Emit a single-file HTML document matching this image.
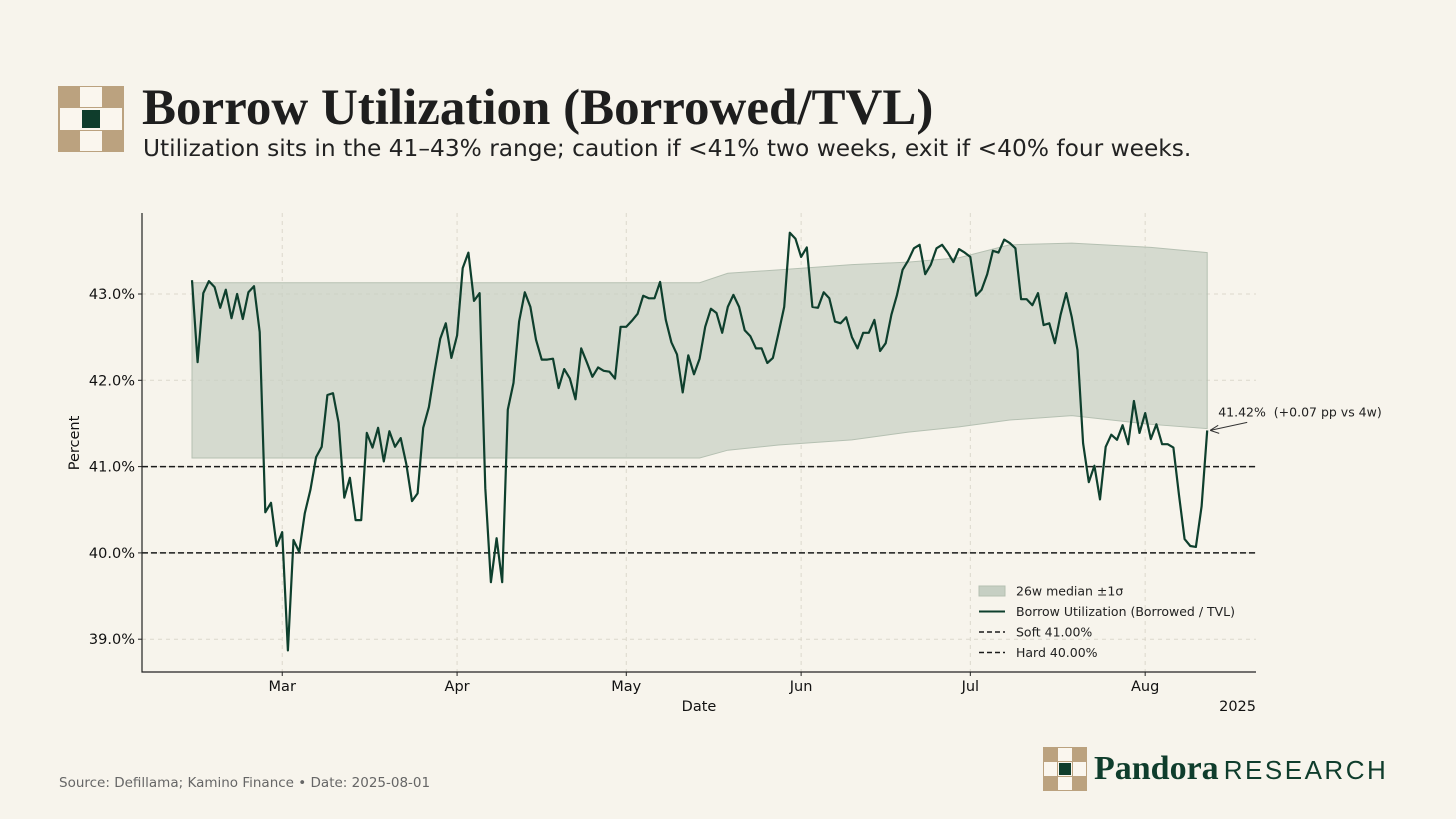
<!DOCTYPE html>
<html><head><meta charset="utf-8">
<style>
html,body{margin:0;padding:0;background:#f7f4ec;}
body{width:1456px;height:819px;position:relative;overflow:hidden;font-family:"DejaVu Sans","Liberation Sans",sans-serif;}
.abs{position:absolute;}
#title{left:142px;top:79px;font-family:"Liberation Serif","DejaVu Serif",serif;font-weight:bold;font-size:51px;color:#1e1e1e;white-space:nowrap;}
#subtitle{left:143px;top:135px;font-size:23.3px;color:#222;white-space:nowrap;font-family:"DejaVu Sans",sans-serif;}
#source{left:59px;top:775px;font-size:13.5px;color:#666;font-family:"DejaVu Sans",sans-serif;}
</style></head><body>
<svg class="abs" style="left:58px;top:86px" width="66" height="66">
<rect width="66" height="66" fill="#bba27f"/>
<rect x="22" y="1" width="22" height="20" fill="#faf6ee"/>
<rect x="2" y="22" width="20" height="22" fill="#faf6ee"/>
<rect x="44" y="22" width="20" height="22" fill="#faf6ee"/>
<rect x="22" y="45" width="22" height="20" fill="#faf6ee"/>
<rect x="22" y="22" width="22" height="22" fill="#faf6ee"/>
<rect x="24" y="24" width="18" height="18" fill="#0f3d2c"/>
</svg>
<div id="title" class="abs">Borrow Utilization (Borrowed/TVL)</div>
<div id="subtitle" class="abs">Utilization sits in the 41–43% range; caution if &lt;41% two weeks, exit if &lt;40% four weeks.</div>
<div id="source" class="abs">Source: Defillama; Kamino Finance • Date: 2025-08-01</div>
<svg class="abs" style="left:1043px;top:747px" width="44" height="44">
<rect width="44" height="44" fill="#bba27f"/>
<rect x="15" y="1" width="14" height="13" fill="#faf6ee"/>
<rect x="1" y="15" width="13" height="14" fill="#faf6ee"/>
<rect x="30" y="15" width="13" height="14" fill="#faf6ee"/>
<rect x="15" y="30" width="14" height="13" fill="#faf6ee"/>
<rect x="15" y="15" width="14" height="14" fill="#faf6ee"/>
<rect x="16" y="16" width="12" height="12" fill="#0f3d2c"/>
</svg>
<div class="abs" style="left:1094px;top:750px;white-space:nowrap;color:#0f3d2c"><span style="font-family:'Liberation Serif',serif;font-weight:bold;font-size:34px">Pandora</span> <span style="font-family:'Liberation Sans',sans-serif;font-size:26px;letter-spacing:2.5px">RESEARCH</span></div>

<svg id="chart" class="abs" style="left:0;top:0" width="1456" height="819"></svg>
<script>
const startDate = "2025-02-13";
const utilization = [43.16,42.21,43.01,43.15,43.08,42.84,43.05,42.72,43.00,42.71,43.02,43.09,42.56,40.47,40.58,40.08,40.24,38.87,40.15,40.01,40.46,40.73,41.11,41.23,41.83,41.85,41.51,40.64,40.87,40.38,40.38,41.39,41.22,41.45,41.06,41.41,41.23,41.33,41.03,40.60,40.69,41.45,41.69,42.10,42.48,42.66,42.26,42.52,43.30,43.48,42.92,43.01,40.75,39.66,40.17,39.66,41.66,41.97,42.68,43.02,42.85,42.47,42.24,42.24,42.25,41.91,42.13,42.02,41.78,42.37,42.21,42.04,42.15,42.11,42.10,42.02,42.62,42.62,42.69,42.77,42.98,42.95,42.95,43.14,42.70,42.44,42.30,41.86,42.29,42.07,42.25,42.62,42.83,42.78,42.55,42.85,42.99,42.85,42.58,42.51,42.37,42.37,42.20,42.26,42.55,42.85,43.71,43.64,43.43,43.54,42.85,42.84,43.02,42.95,42.68,42.66,42.73,42.50,42.37,42.55,42.55,42.70,42.34,42.43,42.76,42.99,43.28,43.39,43.53,43.57,43.23,43.34,43.53,43.57,43.48,43.37,43.52,43.48,43.43,42.98,43.05,43.23,43.50,43.48,43.63,43.59,43.53,42.94,42.94,42.87,43.01,42.64,42.66,42.43,42.76,43.01,42.73,42.35,41.27,40.82,41.01,40.62,41.23,41.37,41.31,41.48,41.26,41.76,41.39,41.62,41.32,41.49,41.26,41.26,41.22,40.67,40.16,40.08,40.07,40.54,41.42];
const bandDays = [0,90,95,104,117,127,136,145,156,170,180];
const bandUpper = [43.13,43.13,43.24,43.28,43.34,43.37,43.42,43.57,43.59,43.54,43.48];
const bandLower = [41.10,41.10,41.19,41.25,41.31,41.40,41.46,41.54,41.59,41.49,41.44];
const yTicks = [39,40,41,42,43];
const xTickLabels = ["Mar","Apr","May","Jun","Jul","Aug"];
const xTickDates = ["2025-03-01","2025-04-01","2025-05-01","2025-06-01","2025-07-01","2025-08-01"];
const softLevel = 41.0, hardLevel = 40.0;

const NS="http://www.w3.org/2000/svg";
const svg=document.getElementById('chart');
const L=142,R=1256,T=213,B=672;
const dayMs=86400000, t0=Date.parse(startDate);
const X0=192, PXD=5.64;
function xDate(s){return X0+(Date.parse(s)-t0)/dayMs*PXD;}
function xDay(d){return X0+d*PXD;}
function y(v){return 294+(43-v)*86.3;}
function mk(tag,attrs,parent){const e=document.createElementNS(NS,tag);for(const k in attrs)e.setAttribute(k,attrs[k]);(parent||svg).appendChild(e);return e;}

yTicks.forEach(v=>{
  const g=mk('line',{x1:L,x2:R,y1:y(v),y2:y(v),stroke:'#dcd8cc','stroke-dasharray':'4 4','stroke-width':1});
  
  
});
xTickDates.forEach(d=>{
  const g=mk('line',{x1:xDate(d),x2:xDate(d),y1:T,y2:B,stroke:'#dcd8cc','stroke-dasharray':'4 4','stroke-width':1});
  
  
});
let bp='';
bandDays.forEach((d,i)=>{bp+=(i?'L':'M')+xDay(d)+','+y(bandUpper[i]);});
for(let i=bandDays.length-1;i>=0;i--)bp+='L'+xDay(bandDays[i])+','+y(bandLower[i]);
const band=mk('path',{d:bp+'Z',fill:'#c6cfc3','fill-opacity':0.7,stroke:'#b5c0b2','stroke-width':1});


[softLevel,hardLevel].forEach((v,i)=>{
  const l=mk('line',{x1:L,x2:R,y1:y(v),y2:y(v),stroke:'#1a1a1a','stroke-width':1.5,'stroke-dasharray':'6 3'});
  
  
});
let lp='';
utilization.forEach((v,i)=>{lp+=(i?'L':'M')+xDay(i).toFixed(1)+','+y(v).toFixed(1);});
const line=mk('path',{d:lp,fill:'none',stroke:'#0e3f2d','stroke-width':2.2,'stroke-linejoin':'round'});


const ax=mk('path',{d:`M${L},${T}V${B}H${R}`,fill:'none',stroke:'#222','stroke-width':1.2});


yTicks.forEach(v=>{
  mk('line',{x1:L-4,x2:L,y1:y(v),y2:y(v),stroke:'#222'});
  const t=mk('text',{x:L-7,y:y(v)+5,'text-anchor':'end','font-size':14.5,fill:'#111'});
  t.textContent=v.toFixed(1)+'%';
  
  
});
xTickDates.forEach((d,i)=>{
  mk('line',{x1:xDate(d),x2:xDate(d),y1:B,y2:B+4,stroke:'#222'});
  const t=mk('text',{x:xDate(d),y:B+19,'text-anchor':'middle','font-size':14.5,fill:'#111'});
  t.textContent=xTickLabels[i];
  
  
});
const yr=mk('text',{x:R,y:B+39,'text-anchor':'end','font-size':14.5,fill:'#111'});yr.textContent='2025';


const xt=mk('text',{x:699,y:B+39,'text-anchor':'middle','font-size':14.5,fill:'#111'});xt.textContent='Date';


const yt=mk('text',{x:79,y:443,'text-anchor':'middle','font-size':14.5,fill:'#111',transform:'rotate(-90 79 443)'});yt.textContent='Percent';


const lastI=utilization.length-1, lv=utilization[lastI];
const ax2=xDay(lastI), ay=y(lv);
mk('line',{x1:ax2+40,y1:ay-8,x2:ax2+3,y2:ay,stroke:'#333','stroke-width':1});
mk('path',{d:`M${ax2+3},${ay} l8,-5 M${ax2+3},${ay} l9,3`,stroke:'#333',fill:'none'});
const an=mk('text',{x:ax2+11,y:ay-14,'font-size':12.5,fill:'#222'});
an.textContent=lv.toFixed(2)+'%\u00a0 (+0.07 pp vs 4w)';


const lg=mk('g',{});


const items=[['band','26w median ±1σ'],['line','Borrow Utilization (Borrowed / TVL)'],['dash','Soft 41.00%'],['dash','Hard 40.00%']];
items.forEach((it,i)=>{
  const yy=591+i*20.5;
  if(it[0]==='band')mk('rect',{x:979,y:yy-5,width:26,height:10,fill:'#c6cfc3',stroke:'#b5c0b2'},lg);
  else if(it[0]==='line')mk('line',{x1:979,x2:1005,y1:yy,y2:yy,stroke:'#0e3f2d','stroke-width':2},lg);
  else mk('line',{x1:979,x2:1005,y1:yy,y2:yy,stroke:'#1a1a1a','stroke-width':1.4,'stroke-dasharray':'5 3'},lg);
  const t=mk('text',{x:1016,y:yy+4.5,'font-size':12.5,fill:'#222'},lg);
  t.textContent=it[1];
  
  
});
</script>
</body></html>
